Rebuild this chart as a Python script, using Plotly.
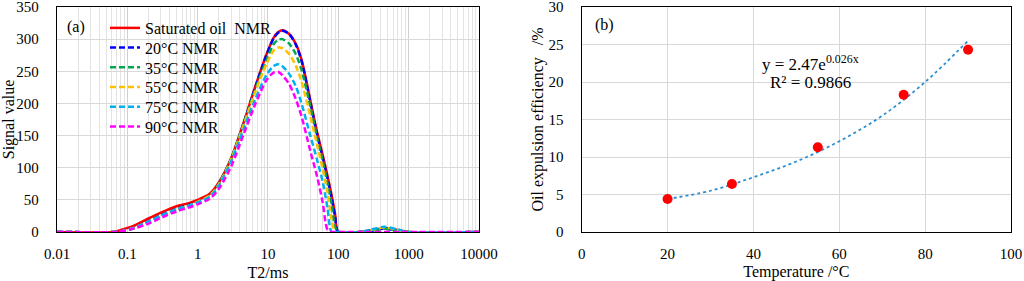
import plotly.graph_objects as go

# ---------------- Panel (a): NMR T2 spectra ----------------
T2 = [0.01, 0.065, 0.08, 0.12, 0.2, 0.3, 0.5, 0.75, 1, 1.5, 2, 3, 4.5, 6.5, 9.5, 12, 14, 16,
      20, 25, 30, 40, 50, 60, 70, 80, 90, 100, 200, 300, 450, 700, 1000, 10000]

sat_oil = [0, 0, 3, 9, 21, 30, 40, 45, 50, 60, 77, 115, 170, 224, 276, 302, 311, 314,
           308, 292, 268, 205, 155, 120, 88, 58, 28, 0, 0, 3, 6, 3, 0, 0]
t20 = [0, 0, 1, 6, 17, 26, 36, 42, 47, 57, 75, 114, 169, 223, 275, 301, 310, 313,
       308, 291, 266, 202, 152, 116, 84, 54, 24, 0, 0, 2, 5, 2, 0, 0]
t35 = [0, 0, 1, 5, 15, 25, 35, 41, 47, 57, 75, 114, 168, 220, 267, 292, 299, 300,
       293, 276, 252, 195, 146, 110, 76, 44, 8, 0, 0, 2, 5, 2, 0, 0]
t55 = [0, 0, 1, 6, 16, 25, 35, 41, 47, 57, 74, 113, 166, 216, 261, 282, 287, 286,
       277, 258, 234, 180, 135, 98, 62, 20, 0, 0, 0, 3, 7, 3, 0, 0]
t75 = [0, 0, 1, 6, 16, 25, 35, 41, 46, 55, 72, 110, 160, 205, 244, 258, 261, 258,
       246, 226, 200, 150, 112, 78, 38, 0, 0, 0, 0, 4, 8, 4, 0, 0]
t90 = [0, 0, 1, 5, 13, 22, 32, 38, 43, 52, 67, 102, 152, 197, 236, 248, 249, 244,
       230, 206, 180, 126, 86, 46, 4, 0, 0, 0, 0, 0, 0, 0, 0, 0]

series_names = ["Saturated oil  NMR", "20°C NMR", "35°C NMR", "55°C NMR", "75°C NMR", "90°C NMR"]
series_vals = [sat_oil, t20, t35, t55, t75, t90]
series_colors = ["#ff0000", "#0000ff", "#00a650", "#ffc000", "#00b0f0", "#ff00ff"]

x_tickvals = [0.01, 0.1, 1, 10, 100, 1000, 10000]
x_ticktext = ["0.01", "0.1", "1", "10", "100", "1000", "10000"]

# ---------------- Panel (b): oil expulsion efficiency ----------------
temperature = [20, 35, 55, 75, 90]
efficiency = [4.4, 6.4, 11.3, 18.3, 24.3]
trend_x = [20, 30, 40, 50, 60, 70, 80, 90]
trend_y = [4.4, 5.5, 7.3, 9.4, 12.1, 15.5, 20.0, 25.5]

FONT = "Liberation Serif"

fig = go.Figure()

legend_ids = ["legend", "legend2", "legend3", "legend4", "legend5", "legend6"]
legend_y = [0.9067, 0.8191, 0.7316, 0.6444, 0.5564, 0.4689]

for name, vals, col, lid in zip(series_names, series_vals, series_colors, legend_ids):
    fig.add_trace(go.Scatter(
        x=T2, y=vals, name=name, mode="lines", legend=lid,
        line=dict(color=col, width=2.5, shape="spline", smoothing=0.8,
                  dash=None if name.startswith("Saturated") else "6px,3px"),
        xaxis="x", yaxis="y", showlegend=True))

fig.add_trace(go.Scatter(
    x=trend_x, y=trend_y, mode="lines", showlegend=False,
    line=dict(color="#2e8fd0", width=1.8, dash="dot", shape="spline"),
    xaxis="x2", yaxis="y2"))
fig.add_trace(go.Scatter(
    x=temperature, y=efficiency, mode="markers", showlegend=False,
    marker=dict(color="#ff0000", size=10),
    xaxis="x2", yaxis="y2"))

minor_vals = [m * 10 ** e for e in range(-2, 4) for m in range(2, 10)]

common_axis = dict(showline=True, linecolor="black", linewidth=1.3, mirror=True,
                   ticks="", tickfont=dict(family=FONT, size=15, color="black"),
                   zeroline=False, layer="below traces", automargin=False,
                   ticklabeloverflow="allow")

legends = {}
for lid, ly in zip(legend_ids, legend_y):
    legends[lid] = dict(x=0.0503, y=ly, xanchor="left", yanchor="middle",
                        bgcolor="rgba(0,0,0,0)", borderwidth=0,
                        font=dict(family=FONT, size=16, color="black"))

fig.update_layout(
    width=1024, height=281,
    margin=dict(l=57, r=13, t=7, b=49),
    paper_bgcolor="white", plot_bgcolor="white",
    font=dict(family=FONT, size=15, color="black"),
    xaxis=dict(type="log", domain=[0, 0.4423], range=[-2, 4],
               tickmode="array", tickvals=x_tickvals, ticktext=x_ticktext,
               showgrid=True, gridcolor="#d0d0d0", gridwidth=1,
               minor=dict(tickvals=minor_vals, showgrid=True, gridcolor="#e3e3e3", gridwidth=1),
               title=dict(text="T2/ms", font=dict(family=FONT, size=16), standoff=5),
               ticklabelstandoff=8, **common_axis),
    yaxis=dict(domain=[0, 1], range=[0, 350], dtick=50,
               showgrid=True, gridcolor="#d9d9d9",
               title=dict(text="Signal value", font=dict(family=FONT, size=16), standoff=6),
               ticklabelstandoff=14, **common_axis),
    xaxis2=dict(domain=[0.550, 1], range=[0, 100], dtick=20, anchor="y2",
                showgrid=True, gridcolor="#d9d9d9",
                title=dict(text="Temperature /°C", font=dict(family=FONT, size=16), standoff=5),
                ticklabelstandoff=8, **common_axis),
    yaxis2=dict(domain=[0, 1], range=[0, 30], dtick=5, anchor="x2",
                showgrid=True, gridcolor="#d9d9d9",
                title=dict(text="Oil expulsion efficiency\u00a0\u00a0\u00a0/%",
                           font=dict(family=FONT, size=16), standoff=0),
                ticklabelstandoff=14, **common_axis),
    annotations=[
        dict(text="(a)", xref="paper", yref="paper", x=0.0199, y=0.911,
             xanchor="center", yanchor="middle", showarrow=False, font=dict(family=FONT, size=16)),
        dict(text="(b)", xref="paper", yref="paper", x=0.5744, y=0.92,
             xanchor="center", yanchor="middle", showarrow=False, font=dict(family=FONT, size=16)),
        dict(text="y = 2.47e<sup>0.026x</sup>", xref="x2", yref="y2", x=53.2, y=22.6,
             xanchor="center", yanchor="middle", showarrow=False, font=dict(family=FONT, size=17)),
        dict(text="R² = 0.9866", xref="x2", yref="y2", x=53.2, y=19.9,
             xanchor="center", yanchor="middle", showarrow=False, font=dict(family=FONT, size=17)),
    ],
    **legends,
)

fig.write_html("out.html", config={"displayModeBar": False},
               post_script="document.body.style.margin='0px';")
